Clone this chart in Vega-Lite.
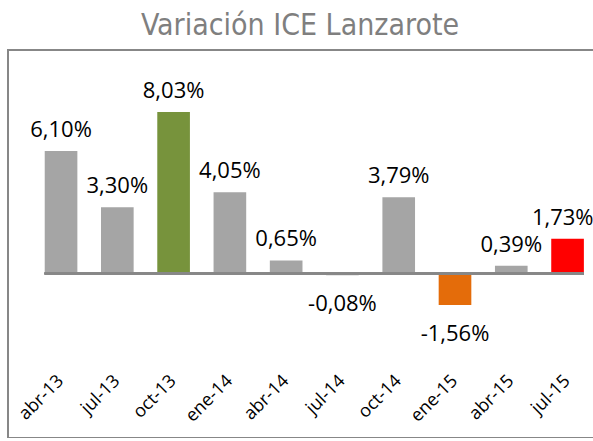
{
  "$schema": "https://vega.github.io/schema/vega-lite/v6.json",
  "width": 592,
  "height": 388,
  "autosize": {"type": "none"},
  "padding": {"left": 8, "top": 50, "right": 0, "bottom": 0},
  "background": "white",
  "config": {
    "locale": {"number": {"decimal": ",", "thousands": ".", "grouping": [3], "currency": ["", " €"], "minus": "-"}},
    "view": {"stroke": "#878787", "strokeWidth": 2}
  },
  "title": {
    "text": "Variación ICE Lanzarote",
    "font": "DejaVu Sans Condensed, Roboto, sans-serif",
    "fontSize": 30,
    "fontWeight": "normal",
    "color": "#7F7F7F",
    "anchor": "middle",
    "offset": 9,
    "dx": -4
  },
  "data": {
    "values": [
      {"mes": "abr-13", "valor": 0.0610, "tipo": "normal"},
      {"mes": "jul-13", "valor": 0.0330, "tipo": "normal"},
      {"mes": "oct-13", "valor": 0.0803, "tipo": "max"},
      {"mes": "ene-14", "valor": 0.0405, "tipo": "normal"},
      {"mes": "abr-14", "valor": 0.0065, "tipo": "normal"},
      {"mes": "jul-14", "valor": -0.0008, "tipo": "normal"},
      {"mes": "oct-14", "valor": 0.0379, "tipo": "normal"},
      {"mes": "ene-15", "valor": -0.0156, "tipo": "min"},
      {"mes": "abr-15", "valor": 0.0039, "tipo": "normal"},
      {"mes": "jul-15", "valor": 0.0173, "tipo": "ultimo"}
    ]
  },
  "encoding": {
    "x": {
      "field": "mes",
      "type": "nominal",
      "sort": null,
      "scale": {"range": [24.9, 587.7], "paddingInner": 0.42, "paddingOuter": 0.21},
      "axis": {
        "title": null,
        "orient": "bottom",
        "offset": -62,
        "domain": false,
        "ticks": false,
        "labelAngle": -45,
        "labelAlign": "right",
        "labelBaseline": "middle",
        "labelFont": "Open Sans",
        "labelFontSize": 18,
        "labelColor": "#000000",
        "labelPadding": 2
      }
    },
    "y": {
      "field": "valor",
      "type": "quantitative",
      "scale": {"domain": [-0.0818, 0.1112], "nice": false, "zero": false},
      "axis": null
    }
  },
  "layer": [
    {
      "mark": {"type": "bar"},
      "encoding": {
        "color": {
          "field": "tipo",
          "type": "nominal",
          "scale": {"domain": ["normal", "max", "min", "ultimo"], "range": ["#A5A5A5", "#77933C", "#E46C0A", "#FF0000"]},
          "legend": null
        }
      }
    },
    {
      "mark": {"type": "rule", "color": "#878787", "strokeWidth": 2},
      "encoding": {
        "x": {"datum": "abr-13", "type": "nominal", "bandPosition": 0},
        "x2": {"datum": "jul-15", "bandPosition": 1},
        "y": {"datum": 0, "type": "quantitative"}
      }
    },
    {
      "transform": [{"filter": "datum.valor >= 0 && datum.tipo != 'ultimo'"}],
      "mark": {"type": "text", "font": "Open Sans", "fontSize": 22, "color": "#000000", "baseline": "alphabetic", "dy": -14},
      "encoding": {"text": {"field": "valor", "type": "quantitative", "format": ".2%"}}
    },
    {
      "transform": [{"filter": "datum.tipo == 'ultimo'"}],
      "mark": {"type": "text", "font": "Open Sans", "fontSize": 22, "color": "#000000", "baseline": "alphabetic", "align": "right", "dx": 26, "dy": -14},
      "encoding": {"text": {"field": "valor", "type": "quantitative", "format": ".2%"}}
    },
    {
      "transform": [{"filter": "datum.valor < 0"}],
      "mark": {"type": "text", "font": "Open Sans", "fontSize": 22, "color": "#000000", "baseline": "alphabetic", "dy": 36},
      "encoding": {"text": {"field": "valor", "type": "quantitative", "format": ".2%"}}
    }
  ]
}
